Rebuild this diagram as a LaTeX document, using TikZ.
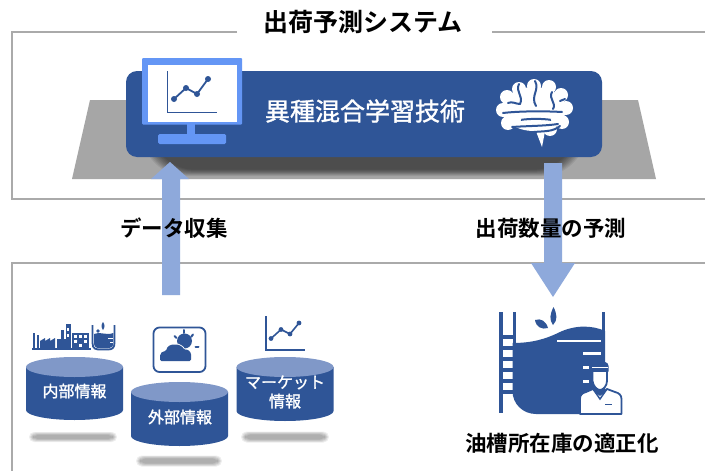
\documentclass[tikz,border=0pt]{standalone}
\usepackage{fontspec}
\setmainfont{Noto Sans CJK JP}[BoldFont={Noto Sans CJK JP Bold}]
\newfontfamily\medfont{Noto Sans CJK JP}[BoldFont={Noto Sans CJK JP}, BoldFeatures={FakeBold=1.4}]
\usetikzlibrary{calc}

\definecolor{dkblue}{RGB}{47,85,151}
\definecolor{monblue}{RGB}{100,150,245}
\definecolor{arrowblue}{RGB}{142,169,219}
\definecolor{cyltop}{RGB}{128,152,200}
\definecolor{platgray}{RGB}{166,166,166}
\definecolor{framegray}{RGB}{170,170,170}

\tikzset{
  framepath/.style={draw=framegray, line width=2pt},
  headline/.style={font=\bfseries\fontsize{25}{25}\selectfont, inner sep=0pt},
  steplabel/.style={font=\bfseries\fontsize{21.5}{22}\selectfont, inner sep=0pt},
  cyllabel/.style={text=white, font=\medfont\bfseries\fontsize{16}{19}\selectfont, align=center, inner sep=0pt},
  blockarrow/.style={fill=arrowblue},
  foldline/.style={draw=dkblue, line width=2pt, line cap=round},
}

% blurred soft shadow: centre x, centre y, half width, half height, steps
\newcommand\softshadow[5]{%
  \foreach \k in {0,...,#5}{%
    \fill[black, opacity=0.07, rounded corners=#4 pt]
      ({#1-#3+\k}, {#2-#4+0.7*\k}) rectangle ({#1+#3-\k}, {#2+#4-0.7*\k});
  }}

% database cylinder: centre x, top y, bottom y, x radius, y radius
\newcommand\dbcyl[5]{%
  \fill[dkblue] ({#1-#4},#2) -- ({#1-#4},#3)
    arc[start angle=180, end angle=0, x radius=#4, y radius=#5] -- ({#1+#4},#2) -- cycle;
  \fill[cyltop] (#1,#2) ellipse[x radius=#4, y radius=#5];}

\begin{document}
\begin{tikzpicture}[x=1pt, y=-1pt]
\useasboundingbox (0,0) rectangle (705,471);
\fill[white] (0,0) rectangle (705,471);

% ---------- frames ----------
\node[headline] (title) at (363,22) {出荷予測システム};
\draw[framepath] (237,32) -- (12,32) -- (12,199) -- (707,199);
\draw[framepath] (492,32) -- (707,32);
\draw[framepath] (707,263) -- (12,263) -- (12,473);

% ---------- platform and system box ----------
\fill[platgray] (90,100) -- (638,100) -- (656,179) -- (72,179) -- cycle;
\softshadow{364}{132}{222}{44}{9}
\node[fill=dkblue, rounded corners=11pt, minimum width=476pt, minimum height=86pt, inner sep=0pt]
  (core) at (364,114) {};
\node[text=white, font=\medfont\bfseries\fontsize{25}{25}\selectfont, inner sep=0pt] (coretext) at (365,111) {異種混合学習技術};

% monitor with chart
\fill[monblue, rounded corners=1pt] (142,58) rectangle (242,124.5);
\fill[white] (147.5,64.5) rectangle (236.5,121.5);
\fill[monblue] (187,124) rectangle (195,135);
\fill[monblue, rounded corners=1.5pt] (158,134) rectangle (226,144);
\draw[dkblue, line width=1.3pt] (167.5,71) -- (167.5,112.5) -- (217,112.5);
\draw[dkblue, line width=1.8pt] (174,99) -- (186,88) -- (197,94) -- (208,79);
\foreach \p in {(174,99),(186,88),(197,94),(208,79)} \fill[dkblue] \p circle[radius=3];

% brain seen from the side, front to the left
\begin{scope}
  \fill[white] (534,109) ellipse[x radius=32, y radius=22];
  \foreach \bx/\by in {507/97, 519/89, 534/86, 549/87, 561/95, 566/108, 562/122, 550/129, 503/110, 508/123}
    \fill[white] (\bx,\by) circle[radius=7];
  \fill[white] (534,126) -- (546,126) -- (542,147) -- cycle;
  % folds
  \draw[foldline] (503,113) .. controls (520,111) and (545,111) .. (562,112);
  \draw[foldline] (512,127) .. controls (525,126) and (545,126) .. (558,124);
  \draw[foldline] (520,120) .. controls (530,118.5) and (542,118.5) .. (552,120);
  \fill[white] (518,119.5) circle[radius=3.2];
  \fill[white] (554,119.5) circle[radius=3.2];
  \draw[foldline] (519,84) .. controls (515,92) and (524,96) .. (520,104);
  \draw[foldline] (508,103) .. controls (512,101) and (516,104) .. (520,104);
  \draw[foldline] (535,81) .. controls (540,90) and (530,96) .. (536,106);
  \draw[foldline] (552,92) .. controls (548,99) and (557,103) .. (553,109);
  \draw[foldline] (560,101) -- (565,99);
  \draw[foldline] (534,132) .. controls (544,131) and (553,132) .. (560,126);
\end{scope}

% ---------- arrows and their labels ----------
\coordinate (uptip) at (170,162);
\fill[blockarrow] (162,295) -- (162,179) -- (151,179) -- (uptip) -- (189,179) -- (180,179) -- (180,295) -- cycle;
\coordinate (downtip) at (553,297);
\fill[blockarrow] (544,163) -- (544,263) -- (531,263) -- (downtip) -- (575,263) -- (562,263) -- (562,163) -- cycle;
\node[steplabel] (collect) at (174,228) {データ収集};
\node[steplabel] (forecast) at (551,228) {出荷数量の予測};

% ---------- data sources ----------
\softshadow{73}{437}{44}{5}{4}
\softshadow{179}{461}{43}{5.5}{4}
\softshadow{285}{437}{44}{5.5}{4}
\dbcyl{74.5}{367}{410}{48.5}{10}
\dbcyl{179.5}{392}{436}{48.5}{10}
\dbcyl{285}{367}{411}{48.5}{10}
\node[cyllabel] (internal) at (74.5,391) {内部情報};
\node[cyllabel] (external) at (180,417) {外部情報};
\node[cyllabel] (market) at (285,392) {マーケット\\情報};

% factory icon
\begin{scope}
  \fill[dkblue] (32,347.5) rectangle (91,350);
  \fill[dkblue] (32.5,333) rectangle (34.5,348);
  \fill[dkblue] (37,335) rectangle (39,348);
  \fill[dkblue] (40,348) -- (40,341) -- (45,338) -- (45,341) -- (50,338) -- (50,341) -- (55,338) -- (55,348) -- cycle;
  \fill[dkblue] (57,339) rectangle (66,348);
  \fill[dkblue] (61,330) rectangle (63.5,340);
  \fill[dkblue] (66,324) rectangle (70.5,348);
  \fill[white] (67.3,328) rectangle (69.2,331);
  \fill[white] (67.3,334) rectangle (69.2,337);
  \fill[dkblue] (72,333) rectangle (89,348);
  \foreach \u/\v in {74/335, 79/335, 84/335, 74/340, 84/340, 79/344}
    \fill[white] (\u,\v) rectangle ++(3,2.5);
  \fill[white] (76,341) circle[radius=1.3];
  \draw[dkblue, line width=1.8pt] (92.5,325) -- (92.5,343) .. controls (92.5,349) and (96,349.5) .. (100,349.5)
    -- (108,349.5) .. controls (112,349.5) and (114.5,348) .. (114.5,343) -- (114.5,325);
  \fill[dkblue] (94,334) .. controls (100,331) and (106,336) .. (113.3,333) -- (113.3,343) .. controls (113.3,347) and (111,348.3) .. (108,348.3) -- (100,348.3) .. controls (96,348.3) and (94,346.5) .. (94,343) -- cycle;
  \fill[dkblue] (103,330) .. controls (101,327) and (101,325) .. (103,322) .. controls (105,325) and (105,327) .. (103,330) -- cycle;
  \fill[dkblue] (98,331) circle[radius=1.8];
  \fill[white] (108,338) rectangle (113.3,339);
  \fill[white] (110,342) rectangle (113.3,343);
\end{scope}

% weather icon
\begin{scope}
  \draw[dkblue, line width=1.8pt, rounded corners=6pt] (153.5,327.5) rectangle (205.5,372);
  \fill[dkblue] (184.5,341) circle[radius=7.5];
  \draw[dkblue, line width=2pt, line cap=round] (184,330) -- (184,333);
  \draw[dkblue, line width=2pt, line cap=round] (174.5,336) -- (176.5,338);
  \draw[dkblue, line width=2pt, line cap=round] (193,334.5) -- (191.2,336.8);
  \draw[dkblue, line width=2pt, line cap=round] (195.5,347) -- (198.5,347);
  \def\cloud{(160,361) -- (160,357) .. controls (160,353) and (163,351) .. (166,351.5)
      .. controls (167,346) and (171,344.5) .. (175,344.5) .. controls (179,344.5) and (183,347) .. (184,350)
      .. controls (188,349) and (191,352) .. (191,356) -- (191,361) -- cycle}
  \draw[white, line width=2.4pt, line join=round] \cloud;
  \fill[dkblue, rounded corners=1.5pt] \cloud;
\end{scope}

% market chart icon
\draw[dkblue, line width=1.2pt] (266,316) -- (266,350) -- (305,350);
\draw[dkblue, line width=1.6pt] (271,338.5) -- (281,329.5) -- (290,334) -- (299,323);
\foreach \p in {(271,338.5),(281,329.5),(290,334),(299,323)} \fill[dkblue] \p circle[radius=2.4];

% ---------- storage tank with worker ----------
\begin{scope}
  % ladder
  \fill[dkblue] (499,312) rectangle (503,413);
  \fill[dkblue] (512.5,312) rectangle (516,392);
  \foreach \v in {335,346,357,368,379,390}
    \fill[dkblue] (503,\v) rectangle (512.5,{\v+3.5});
  % tank wall and liquid
  \fill[dkblue] (601.5,312) rectangle (605,335);
  \fill[dkblue] (512.5,343) .. controls (532,343) and (546,339) .. (560,332)
      .. controls (575,325) and (592,325) .. (605,331) -- (605,414) -- (536,414)
      .. controls (523,414) and (512.5,404) .. (512.5,391) -- cycle;
  % level marks
  \fill[white] (556.5,339.5) rectangle (601,342);
  \fill[white] (583,352) rectangle (601,354.5);
  \fill[white] (583,366) rectangle (589,368.5);
  \fill[white] (583,380) rectangle (589,382.5);
  % droplets
  \fill[dkblue] (553,325) .. controls (549,320) and (550,314) .. (553.5,307)
      .. controls (557,314) and (558,320) .. (553,325) -- cycle;
  \fill[dkblue] (548,328) .. controls (542,330) and (536,327) .. (535,320)
      .. controls (541,318) and (546,321) .. (548,328) -- cycle;
  % worker
  \draw[dkblue, line width=1.8pt, fill=white, line join=round]
    (580,414) -- (580,399) .. controls (580,395) and (582,393) .. (586,392) -- (593,389)
    -- (600,395) -- (607,389) -- (615,392) .. controls (619,393) and (621.5,395) .. (621.5,399) -- (621.5,414) -- cycle;
  \draw[dkblue, line width=1.5pt] (593,389) -- (600,399) -- (607,389);
  \draw[dkblue, line width=1.5pt] (605,404.5) -- (612,404.5);
  \draw[dkblue, line width=1.8pt, fill=white, line join=round]
    (592.5,371) -- (592.5,381) .. controls (593,386) and (597,390) .. (600,390)
    .. controls (603,390) and (607,386) .. (607,381) -- (607,371) -- cycle;
  \fill[dkblue] (590,371.5) -- (590,366) .. controls (591,362) and (596,361.5) .. (600,361.5)
    .. controls (604,361.5) and (608.5,362) .. (608.5,366) -- (608.5,371.5) -- cycle;
  \fill[dkblue] (585.5,369) rectangle (592,371.5);
  \fill[white] (591.5,367) rectangle (608,368.2);
\end{scope}
\node[steplabel] (tankcaption) at (562,443) {油槽所在庫の適正化};

\end{tikzpicture}
\end{document}
